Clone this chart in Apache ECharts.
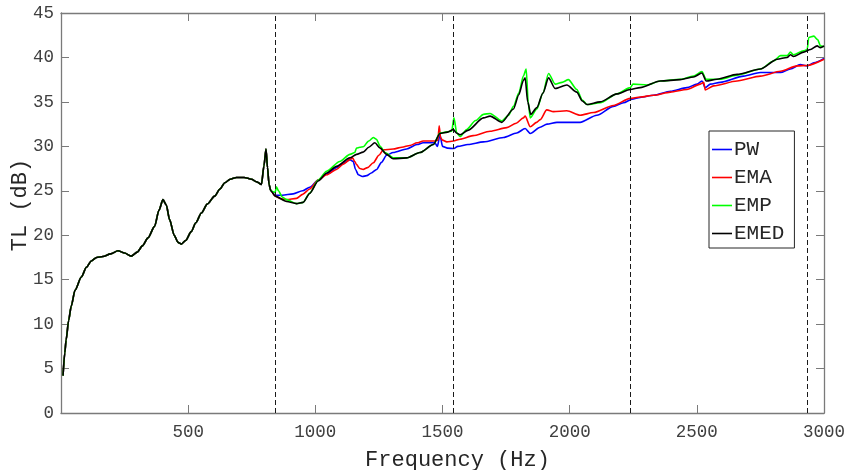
<!DOCTYPE html>
<html>
<head>
<meta charset="utf-8">
<script src="https://cdn.jsdelivr.net/npm/echarts@6/dist/echarts.min.js"></script>
<style>html,body{margin:0;padding:0;background:#fff}#c{width:849px;height:470px}</style>
</head>
<body>
<div id="c"></div>
<script>
// Shared low-frequency part (all four models coincide below first cut-off)
const lowFreq = [[8,4.2],[15,6.8],[20,8.2],[30,10.4],[40,12.0],[55,13.8],[80,15.3],[100,16.4],[119,17.1],[140,17.5],[165,17.6],[195,17.9],[224,18.25],[250,18.0],[276,17.65],[300,18.1],[320,18.8],[342,19.7],[368,21.0],[385,22.8],[401,24.0],[414,23.4],[427,21.75],[445,20.0],[460,19.2],[473,19.0],[490,19.4],[512,20.4],[530,21.4],[552,22.5],[575,23.5],[604,24.4],[625,25.2],[644,25.9],[665,26.3],[690,26.5],[720,26.5],[749,26.3],[770,26.0],[788,25.7],[798,27.8],[806,29.7],[812,27.6],[818,25.7],[825,25.0]];

const pwHigh = [[842,24.5],[870,24.5],[913,24.65],[950,25.0],[978,25.4],[1011,26.2],[1045,26.9],[1083,27.6],[1110,28.1],[1136,28.5],[1149,28.3],[1158,27.4],[1169,26.8],[1185,26.6],[1202,26.7],[1220,27.0],[1241,27.4],[1260,28.2],[1280,29.0],[1306,29.3],[1359,29.7],[1400,30.2],[1424,30.4],[1470,30.4],[1480,30.0],[1490,31.3],[1500,30.0],[1520,29.8],[1545,29.75],[1560,30.0],[1600,30.2],[1661,30.5],[1740,31.0],[1792,31.5],[1825,32.0],[1845,31.45],[1884,32.15],[1911,32.5],[1950,32.7],[2000,32.7],[2041,32.7],[2107,33.5],[2172,34.5],[2212,34.9],[2245,35.3],[2277,35.5],[2330,35.75],[2396,36.2],[2461,36.6],[2501,37.0],[2520,37.35],[2533,36.6],[2553,37.0],[2592,37.2],[2684,37.9],[2750,38.3],[2829,38.3],[2868,38.7],[2907,39.2],[2934,39.05],[2960,39.4],[3000,39.9]];

const emaHigh = [[842,24.4],[865,24.1],[887,24.0],[926,24.15],[950,24.6],[978,25.2],[1011,26.2],[1045,26.8],[1083,27.4],[1110,28.0],[1136,28.5],[1146,28.7],[1155,28.3],[1162,27.95],[1175,27.5],[1188,27.4],[1205,27.6],[1228,28.15],[1250,29.0],[1267,29.6],[1306,29.7],[1340,29.9],[1372,30.1],[1400,30.4],[1424,30.6],[1470,30.6],[1482,30.7],[1487,32.3],[1492,31.0],[1500,30.7],[1517,30.5],[1543,30.6],[1569,30.8],[1620,31.2],[1687,31.7],[1753,32.1],[1790,32.6],[1818,33.2],[1825,33.4],[1845,32.2],[1870,32.7],[1884,33.0],[1910,34.1],[1936,33.9],[1989,34.0],[2041,33.5],[2094,33.8],[2172,34.6],[2238,35.4],[2277,35.55],[2330,35.75],[2396,36.1],[2461,36.4],[2514,37.0],[2527,37.2],[2533,36.35],[2566,36.8],[2658,37.35],[2750,37.9],[2829,38.45],[2894,39.05],[2934,39.1],[3000,39.8]];

const empHigh = [[842,24.8],[847,25.45],[855,25.0],[870,24.3],[887,24.0],[926,23.55],[952,23.7],[978,24.75],[1011,26.2],[1044,27.2],[1096,28.3],[1136,29.1],[1155,29.3],[1162,29.8],[1175,29.9],[1188,29.95],[1210,30.6],[1228,31.0],[1240,30.8],[1255,30.0],[1274,29.3],[1306,28.7],[1359,28.7],[1411,29.3],[1464,30.2],[1490,31.5],[1536,31.7],[1545,33.2],[1556,31.5],[1569,31.1],[1595,31.9],[1630,32.9],[1661,33.6],[1687,33.7],[1733,32.85],[1760,33.5],[1779,34.5],[1800,36.0],[1818,37.9],[1829,38.7],[1837,35.0],[1845,33.2],[1871,34.2],[1895,36.0],[1917,38.2],[1943,37.0],[1970,37.2],[1995,37.5],[2028,36.4],[2050,35.2],[2068,34.7],[2120,34.9],[2186,35.9],[2238,36.6],[2249,37.0],[2304,36.9],[2356,37.35],[2435,37.55],[2487,37.9],[2520,38.4],[2537,37.55],[2592,37.55],[2658,38.0],[2750,38.7],[2802,39.6],[2829,40.2],[2855,40.2],[2868,40.6],[2880,40.3],[2920,40.75],[2934,40.9],[2940,42.25],[2960,42.4],[2975,42.0],[2986,41.3],[3000,41.2]];

const emedHigh = [[842,24.4],[887,23.8],[926,23.55],[952,23.7],[978,24.7],[1011,26.1],[1045,27.0],[1083,27.75],[1136,28.7],[1162,29.1],[1188,29.35],[1210,29.9],[1234,30.4],[1255,29.8],[1280,29.1],[1306,28.6],[1359,28.7],[1411,29.3],[1464,30.2],[1490,31.45],[1520,31.6],[1543,31.9],[1555,31.5],[1569,31.3],[1600,31.8],[1661,33.2],[1687,33.4],[1733,32.7],[1779,34.2],[1800,35.8],[1818,37.4],[1825,37.7],[1835,35.0],[1847,33.6],[1871,34.35],[1895,36.0],[1917,37.7],[1943,36.5],[1989,36.9],[2028,36.1],[2050,35.1],[2068,34.7],[2120,35.0],[2186,35.9],[2238,36.4],[2277,36.6],[2356,37.35],[2435,37.5],[2487,37.8],[2520,38.25],[2537,37.35],[2579,37.55],[2658,38.1],[2750,38.7],[2816,39.8],[2855,40.0],[2868,40.3],[2880,40.1],[2920,40.6],[2947,40.9],[2973,41.3],[2986,41.1],[3000,41.3]];

const seriesNames = ['PW','EMA','EMP','EMED'];
const seriesColors = ['#0000ff','#ff0000','#00ff00','#000000'];
const cutoffs = [842, 1544, 2240, 2936];
const xTicks = [0, 3000, 500];
const yTicks = [0, 45, 5];

const FONT = '"Liberation Mono", "DejaVu Sans Mono", monospace';
const highs = [pwHigh, emaHigh, empHigh, emedHigh];

const axisCol = '#7a7a7a';
const labelCol = '#404040';

function xAx(pos, showLabel) {
  return {
    type: 'value', position: pos, min: xTicks[0], max: xTicks[1], interval: xTicks[2],
    axisLine: {show: true, onZero: false, lineStyle: {color: axisCol, width: 1.3}},
    axisTick: {show: true, inside: true, length: 8, lineStyle: {color: axisCol}},
    axisLabel: {show: showLabel, color: labelCol, fontFamily: FONT, fontSize: 17.5, margin: 10,
      formatter: v => v === 0 ? '' : String(v)},
    splitLine: {show: false},
    name: showLabel ? 'Frequency (Hz)' : '',
    nameLocation: 'middle', nameGap: 36,
    nameTextStyle: {color: '#262626', fontFamily: FONT, fontSize: 22, padding: [0,0,0,30]}
  };
}
function yAx(pos, showLabel) {
  return {
    type: 'value', position: pos, min: yTicks[0], max: yTicks[1], interval: yTicks[2],
    axisLine: {show: true, onZero: false, lineStyle: {color: axisCol, width: 1.3}},
    axisTick: {show: true, inside: true, length: 8, lineStyle: {color: axisCol}},
    axisLabel: {show: showLabel, color: labelCol, fontFamily: FONT, fontSize: 17.5, margin: 7},
    splitLine: {show: false},
    name: showLabel ? 'TL (dB)' : '',
    nameLocation: 'middle', nameGap: 30, nameMoveOverlap: false,
    nameTextStyle: {color: '#262626', fontFamily: FONT, fontSize: 22, padding: [0,0,0,16]}
  };
}

const series = seriesNames.map((n, i) => {
  const s = {
    name: n, type: 'line', xAxisIndex: 0, yAxisIndex: 0,
    data: lowFreq.concat(highs[i]),
    showSymbol: false, symbol: 'none', smooth: 0.25, smoothMonotone: 'x',
    lineStyle: {color: seriesColors[i], width: 1.6},
    itemStyle: {color: seriesColors[i]},
    z: 2 + i
  };
  if (i === 3) {
    s.markLine = {
      silent: true, symbol: ['none','none'], animation: false,
      label: {show: false},
      lineStyle: {color: '#1a1a1a', type: [5,3], width: 1},
      data: cutoffs.map(c => ({xAxis: c}))
    };
  }
  return s;
});

const chart = echarts.init(document.getElementById('c'), null, {renderer: 'canvas'});
chart.setOption({
  animation: false,
  backgroundColor: '#ffffff',
  textStyle: {fontFamily: FONT},
  grid: {left: 61, right: 25, top: 13, bottom: 57, containLabel: false, outerBoundsMode: 'none'},
  xAxis: [xAx('bottom', true), xAx('top', false)],
  yAxis: [yAx('left', true), yAx('right', false)],
  legend: {
    data: seriesNames, orient: 'vertical', left: 709, top: 131,
    backgroundColor: '#ffffff', borderColor: '#262626', borderWidth: 1, borderRadius: 0,
    padding: [8, 10, 4, 3], itemGap: 7, itemWidth: 20, itemHeight: 1.6, icon: 'rect',
    textStyle: {fontFamily: FONT, fontSize: 21, color: '#262626', padding: [0,0,0,-3]}
  },
  series: series
});
</script>
</body>
</html>
